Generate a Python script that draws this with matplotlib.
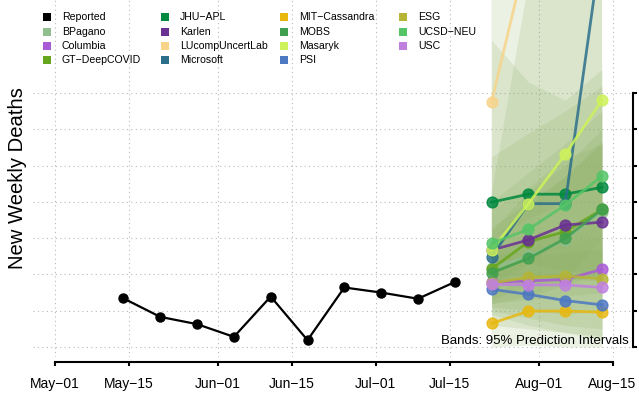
import numpy as np
import matplotlib.pyplot as plt
import matplotlib.dates as mdates
from matplotlib.patches import Rectangle

plt.rcParams['font.family'] = ['Liberation Sans', 'DejaVu Sans']

MINUS = '\u2212'

# observed weekly deaths
reported_dates = ['2022-05-14', '2022-05-21', '2022-05-28', '2022-06-04', '2022-06-11',
                  '2022-06-18', '2022-06-25', '2022-07-02', '2022-07-09', '2022-07-16']
reported = [134, 83, 63, 28, 139, 19, 164, 150, 133, 179]

forecast_dates = ['2022-07-23', '2022-07-30', '2022-08-06', '2022-08-13']

models = ['BPagano', 'Columbia', 'GT-DeepCOVID', 'JHU-APL', 'Karlen', 'LUcompUncertLab',
          'Microsoft', 'MIT-Cassandra', 'MOBS', 'Masaryk', 'PSI', 'ESG', 'UCSD-NEU', 'USC']
colors = ['#8fbe8f', '#a95bd6', '#66a61e', '#00893f', '#6a3093', '#f7d48a',
          '#2c6f8a', '#e8b80f', '#41a04f', '#cdf25a', '#4d78c2', '#b5b535', '#55c567', '#c080e0']
band_color = '#8aad5e'

median = {
    'BPagano':         [217, 251, 295, 372],
    'Columbia':        [178, 182, 186, 214],
    'GT-DeepCOVID':    [215, 290, 318, 379],
    'JHU-APL':         [399, 421, 421, 440],
    'Karlen':          [267, 295, 336, 344],
    'LUcompUncertLab': [676, 1100, 1300, 1500],
    'Microsoft':       [249, 395, 395, 1121],
    'MIT-Cassandra':   [65, 99, 99, 96],
    'MOBS':            [204, 244, 299, 379],
    'Masaryk':         [267, 395, 531, 680],
    'PSI':             [159, 145, 128, 116],
    'ESG':             [176, 192, 196, 188],
    'UCSD-NEU':        [286, 324, 391, 471],
    'USC':             [173, 171, 171, 164],
}
lower = {
    'BPagano':         [120, 130, 140, 150],
    'Columbia':        [110, 100, 90, 100],
    'GT-DeepCOVID':    [130, 170, 180, 200],
    'JHU-APL':         [250, 230, 210, 200],
    'Karlen':          [180, 180, 190, 180],
    'LUcompUncertLab': [300, 350, 400, 450],
    'Microsoft':       [150, 200, 180, 300],
    'MIT-Cassandra':   [0, 5, 0, 0],
    'MOBS':            [120, 140, 170, 200],
    'Masaryk':         [170, 230, 300, 380],
    'PSI':             [90, 60, 40, 20],
    'ESG':             [60, 50, 40, 30],
    'UCSD-NEU':        [190, 200, 230, 260],
    'USC':             [100, 80, 60, 50],
}
upper = {
    'BPagano':         [330, 400, 470, 560],
    'Columbia':        [260, 290, 320, 360],
    'GT-DeepCOVID':    [320, 430, 500, 600],
    'JHU-APL':         [845, 730, 680, 765],
    'Karlen':          [380, 440, 520, 560],
    'LUcompUncertLab': [1300, 1800, 2200, 2600],
    'Microsoft':       [420, 1000, 1600, 2500],
    'MIT-Cassandra':   [140, 200, 230, 260],
    'MOBS':            [300, 390, 470, 570],
    'Masaryk':         [524, 589, 650, 719],
    'PSI':             [240, 250, 260, 270],
    'ESG':             [260, 300, 330, 360],
    'UCSD-NEU':        [400, 480, 560, 650],
    'USC':             [250, 270, 290, 300],
}

xtick_dates = ['2022-05-01', '2022-05-15', '2022-06-01', '2022-06-15',
               '2022-07-01', '2022-07-15', '2022-08-01', '2022-08-15']
xtick_labels = ['May-01', 'May-15', 'Jun-01', 'Jun-15', 'Jul-01', 'Jul-15', 'Aug-01', 'Aug-15']
yticks = [0, 100, 200, 300, 400, 500, 600, 700]

def d(s):
    return mdates.date2num(np.datetime64(s))

fig = plt.figure(figsize=(6.39, 4.03), dpi=100)
ax = fig.add_axes([33 / 639, 1 - 357 / 403, 599 / 639, 357 / 403])

fx = [d(s) for s in forecast_dates]
for m in models:
    ax.fill_between(fx, lower[m], upper[m], color=band_color, alpha=0.17, lw=0, zorder=1)

for m, c in zip(models, colors):
    ax.plot(fx, median[m], color=c, lw=2, marker='o', ms=7.8, alpha=0.85, zorder=3)

ax.plot([d(s) for s in reported_dates], reported, color='black', lw=1.6,
        marker='o', ms=6.5, zorder=4)

x0 = d('2022-05-01')
ax.set_xlim(x0 - 4.2, x0 + 109.7)
ax.set_ylim(-27.5, 956)

ax.set_xticks([d(s) for s in xtick_dates])
ax.set_xticklabels([t.replace('-', MINUS) for t in xtick_labels], fontsize=11)
ax.set_yticks(yticks)
ax.yaxis.tick_right()
ax.tick_params(axis='x', direction='out', length=3, width=1.5, pad=8)
ax.tick_params(axis='y', direction='out', length=3, width=1.5, labelright=False)

ax.grid(True, linestyle=(0, (1, 3)), color='#b8b8b8', lw=0.8, zorder=0)
ax.set_axisbelow(True)

for s in ['top', 'left']:
    ax.spines[s].set_visible(False)
ax.spines['bottom'].set_position(('outward', 3.6))
ax.spines['bottom'].set_bounds(d(xtick_dates[0]), d(xtick_dates[-1]))
ax.spines['bottom'].set_linewidth(1.5)
ax.spines['right'].set_position(('outward', 0.7))
ax.spines['right'].set_bounds(0, 700)
ax.spines['right'].set_linewidth(1.5)

ax.text(0.995, 0.045, 'Bands: 95% Prediction Intervals', transform=ax.transAxes,
        ha='right', va='center', fontsize=9.5, zorder=5)

fig.text(18 / 639, 1 - 178 / 403, 'New Weekly Deaths', rotation=90,
         ha='center', va='center', fontsize=14.6)

# legend, four equal-width columns as in the original
leg_names = ['Reported'] + models
leg_colors = ['black'] + colors
col_x = [47, 165, 284, 403]
row_y = [17.3, 32.3, 46.3, 60.3]
for i, (name, c) in enumerate(zip(leg_names, leg_colors)):
    cx = col_x[i // 4]
    cy = row_y[i % 4]
    fig.add_artist(Rectangle(((cx - 4) / 639, 1 - (cy + 4) / 403), 8 / 639, 8 / 403,
                             transform=fig.transFigure, color=c, lw=0))
    fig.text((cx + 15) / 639, 1 - cy / 403, name.replace('-', MINUS),
             ha='left', va='center', fontsize=7.6)

fig.savefig('out.png', dpi=100)
